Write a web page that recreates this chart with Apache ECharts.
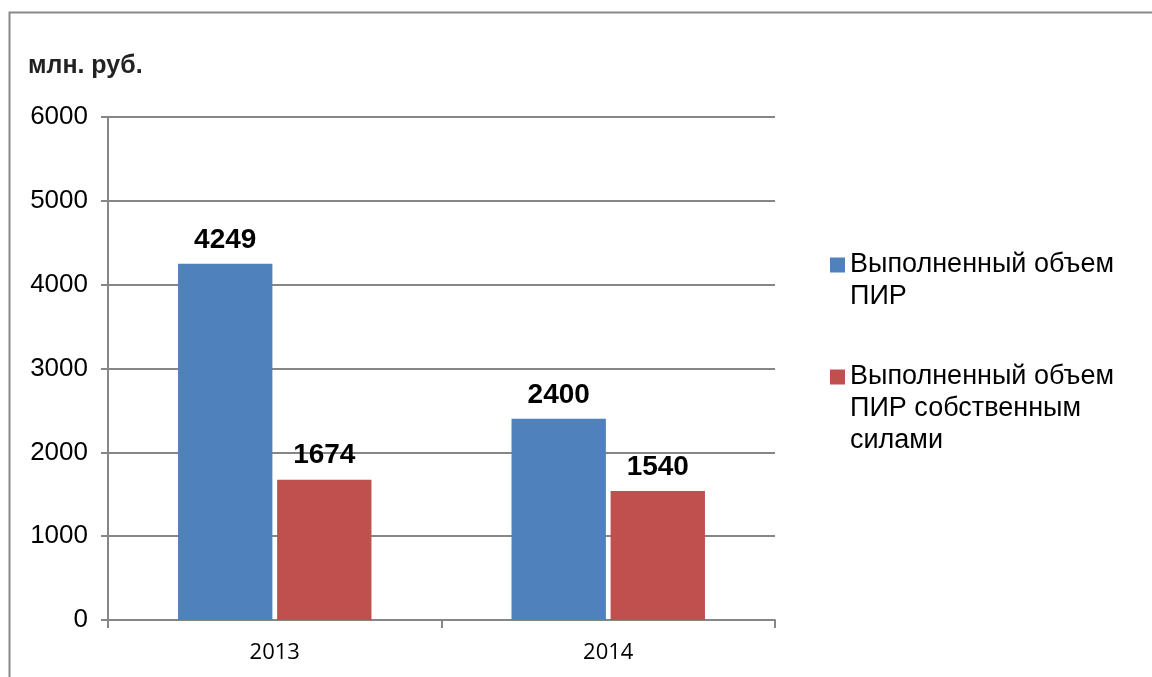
<!DOCTYPE html>
<html><head><meta charset="utf-8">
<script src="https://cdn.jsdelivr.net/npm/echarts@6/dist/echarts.min.js"></script>
<style>html,body{margin:0;padding:0;background:#fff}#c{width:1152px;height:677px}</style>
</head><body><div id="c"></div>
<script>
const categories = ['2013', '2014'];
const seriesNames = ['Выполненный объем\nПИР', 'Выполненный объем\nПИР собственным\nсилами'];
const totalVolume = [4249, 2400];
const ownVolume = [1674, 1540];
const yTicks = [0, 1000, 2000, 3000, 4000, 5000, 6000];
const unitLabel = 'млн. руб.';

const chart = echarts.init(document.getElementById('c'));
const axisColor = '#868686';
const labelStyle = {show: true, position: 'top', distance: 10, fontFamily: 'Liberation Sans, Arial', fontWeight: 'bold', fontSize: 28, color: '#000'};
const legendText = {fontFamily: 'Liberation Sans, Arial', fontSize: 27, lineHeight: 32, color: '#000'};
// leading blank lines keep the icon level with the first text line
const padLines = n => '\n'.repeat(n.split('\n').length - 1) + n;
chart.setOption({
  animation: false,
  title: {text: unitLabel, left: 23, top: 49, textStyle: {fontFamily: 'Liberation Sans, Arial', fontWeight: 'bold', fontSize: 25, color: '#222'}},
  graphic: [{type: 'rect', shape: {x: 9.5, y: 12.5, width: 1200, height: 700}, style: {fill: 'none', stroke: '#898989', lineWidth: 2}, silent: true}],
  legend: [
    {orient: 'vertical', left: 825, top: 212, itemWidth: 15, itemHeight: 15, icon: 'rect',
     data: [seriesNames[0]], formatter: padLines, textStyle: legendText},
    {orient: 'vertical', left: 825, top: 292, itemWidth: 15, itemHeight: 15, icon: 'rect',
     data: [seriesNames[1]], formatter: padLines, textStyle: legendText}
  ],
  grid: {left: 108, right: 377, top: 117, bottom: 57},
  xAxis: {type: 'category', data: categories,
    axisLine: {lineStyle: {color: axisColor, width: 2}},
    axisTick: {show: true, length: 8, lineStyle: {color: axisColor, width: 2}},
    axisLabel: {margin: 22, fontFamily: 'Open Sans', fontSize: 22, color: '#000'}},
  yAxis: {type: 'value', min: 0, max: 6000, interval: 1000,
    axisLine: {show: true, lineStyle: {color: axisColor, width: 2}},
    axisTick: {show: true, length: 7, lineStyle: {color: axisColor, width: 2}},
    splitLine: {lineStyle: {color: axisColor, width: 2}},
    axisLabel: {margin: 20, fontFamily: 'Liberation Sans, Arial', fontSize: 26, color: '#000',
      formatter: v => yTicks.includes(v) ? String(v) : ''}},
  series: [
    {name: seriesNames[0], type: 'bar', data: totalVolume, barGap: '5%', barCategoryGap: '42%',
     itemStyle: {color: '#4F81BD'}, label: labelStyle},
    {name: seriesNames[1], type: 'bar', data: ownVolume,
     itemStyle: {color: '#C0504D'}, label: labelStyle}
  ]
});
</script></body></html>
